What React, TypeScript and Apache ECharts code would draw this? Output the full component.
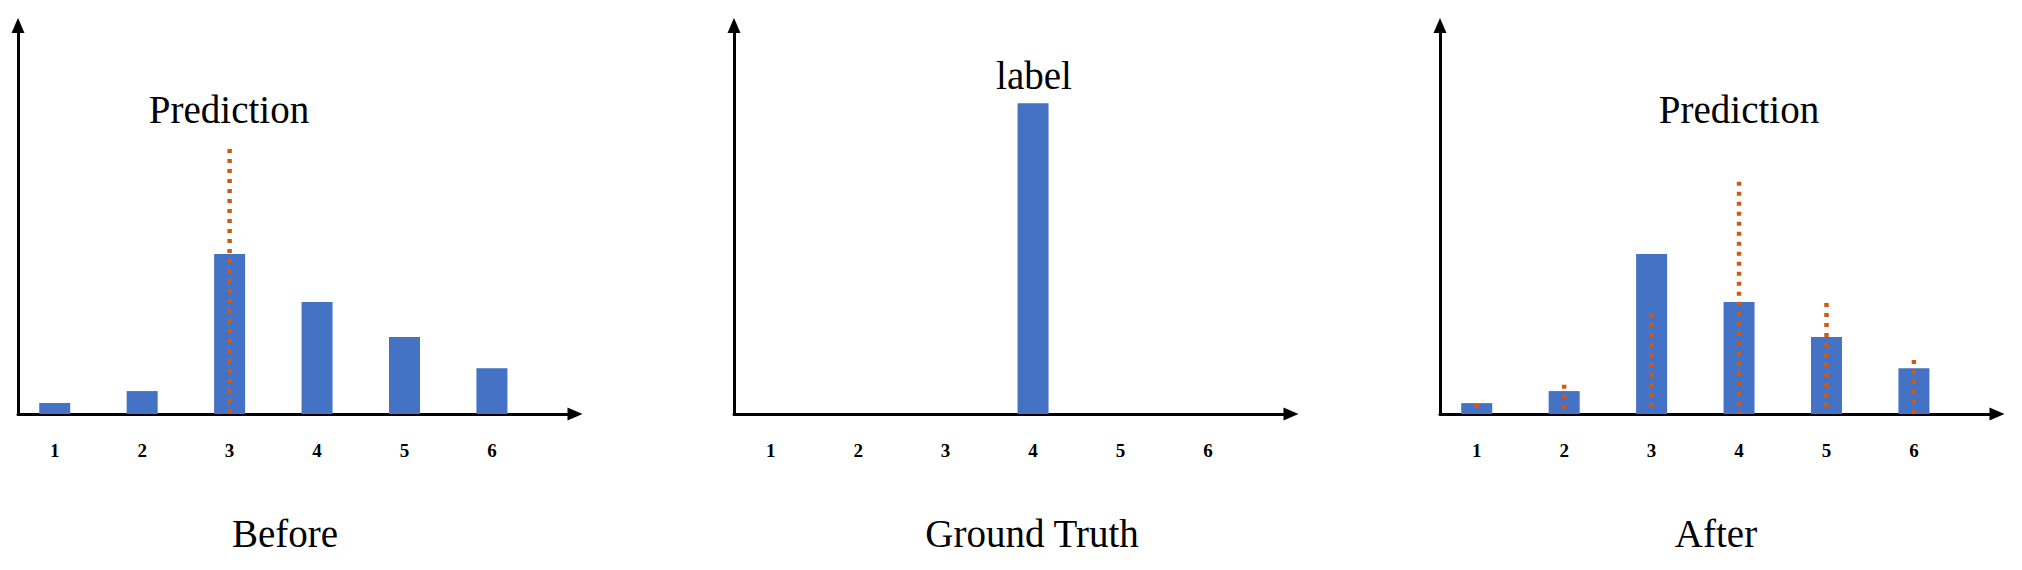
import { useEffect, useRef } from "react";
import * as echarts from "echarts";

// ---- data ----
const categories = [1, 2, 3, 4, 5, 6];
const beforePrediction = [2.8, 5.9, 41.2, 28.8, 19.8, 11.8];
const beforeDotted = [0, 0, 68.2, 0, 0, 0];
const groundTruth = [0, 0, 0, 80, 0, 0];
const afterPrediction = [2.8, 5.9, 41.2, 28.8, 19.8, 11.8];
const afterDotted = [2.6, 7.5, 26.0, 59.8, 28.6, 13.9];
const panelTitles = ["Before", "Ground Truth", "After"];
const topLabels = ["Prediction", "label", "Prediction"];

const barSets = [beforePrediction, groundTruth, afterPrediction];
const dottedSets = [beforeDotted, null, afterDotted];

// ---- layout / style ----
const GRID_LEFTS = [18, 734, 1440];
const GRID_TOP = 25.5;
const GRID_W = 557;
const GRID_H = 388.5;
const X_MIN = 0.58;
const X_MAX = 6.95;
const BLUE = "#4472C4";
const ORANGE = "#D05A14";
const SERIF = '"Liberation Serif", "Times New Roman", serif';

const TOP_LABEL_POS = [
  [229, 109],
  [1034, 75],
  [1739, 109],
];
const TITLE_POS = [
  [285, 533],
  [1032, 533],
  [1716, 533],
];

export default function App() {
  const ref = useRef<HTMLDivElement>(null);

  useEffect(() => {
    if (!ref.current) return;
    const chart = echarts.init(ref.current, undefined, { renderer: "svg" });

    const grid = GRID_LEFTS.map((l) => ({
      left: l,
      top: GRID_TOP,
      width: GRID_W,
      height: GRID_H,
      containLabel: false,
      outerBoundsMode: "none",
    }));

    const axisLine = {
      show: true,
      onZero: false,
      symbol: ["none", "triangle"],
      symbolSize: [13, 15],
      lineStyle: { color: "#000", width: 3 },
    };

    const xAxis = GRID_LEFTS.map((_, i) => ({
      type: "value",
      gridIndex: i,
      min: X_MIN,
      max: X_MAX,
      axisLine,
      axisTick: { show: false },
      splitLine: { show: false },
      axisLabel: {
        customValues: categories,
        fontFamily: SERIF,
        fontWeight: "bold",
        fontSize: 19,
        color: "#000",
        margin: 27,
      },
    }));

    const yAxis = GRID_LEFTS.map((_, i) => ({
      type: "value",
      gridIndex: i,
      min: 0,
      max: 100,
      axisLine,
      axisTick: { show: false },
      splitLine: { show: false },
      axisLabel: { show: false },
    }));

    const series: any[] = [];
    barSets.forEach((vals, i) => {
      series.push({
        type: "bar",
        xAxisIndex: i,
        yAxisIndex: i,
        barWidth: 31,
        itemStyle: { color: BLUE },
        data: categories
          .map((c, j) => [c, vals[j]])
          .filter((d) => d[1] > 0),
        z: 2,
        silent: true,
      });
    });
    dottedSets.forEach((vals, i) => {
      if (!vals) return;
      categories.forEach((c, j) => {
        if (vals[j] <= 0) return;
        series.push({
          type: "line",
          xAxisIndex: i,
          yAxisIndex: i,
          symbol: "none",
          showSymbol: false,
          lineStyle: { color: ORANGE, width: 4.5, type: [4, 6] },
          data: [
            [c, vals[j]],
            [c, 0],
          ],
          z: 3,
          silent: true,
        });
      });
    });

    const textStyle = (text: string, x: number, y: number) => ({
      type: "text",
      x,
      y,
      silent: true,
      style: {
        text,
        font: `39px ${SERIF}`,
        fill: "#000",
        align: "center",
        textAlign: "center",
        verticalAlign: "middle",
        textVerticalAlign: "middle",
      },
    });

    const graphic = [
      ...topLabels.map((t, i) => textStyle(t, TOP_LABEL_POS[i][0], TOP_LABEL_POS[i][1])),
      ...panelTitles.map((t, i) => textStyle(t, TITLE_POS[i][0], TITLE_POS[i][1])),
    ];

    chart.setOption({
      animation: false,
      backgroundColor: "#fff",
      grid,
      xAxis,
      yAxis,
      series,
      graphic,
    } as any);

    return () => chart.dispose();
  }, []);

  return (
    <div
      ref={ref}
      style={{ position: "fixed", left: 0, top: 0, width: 2022, height: 570, background: "#fff" }}
    />
  );
}
